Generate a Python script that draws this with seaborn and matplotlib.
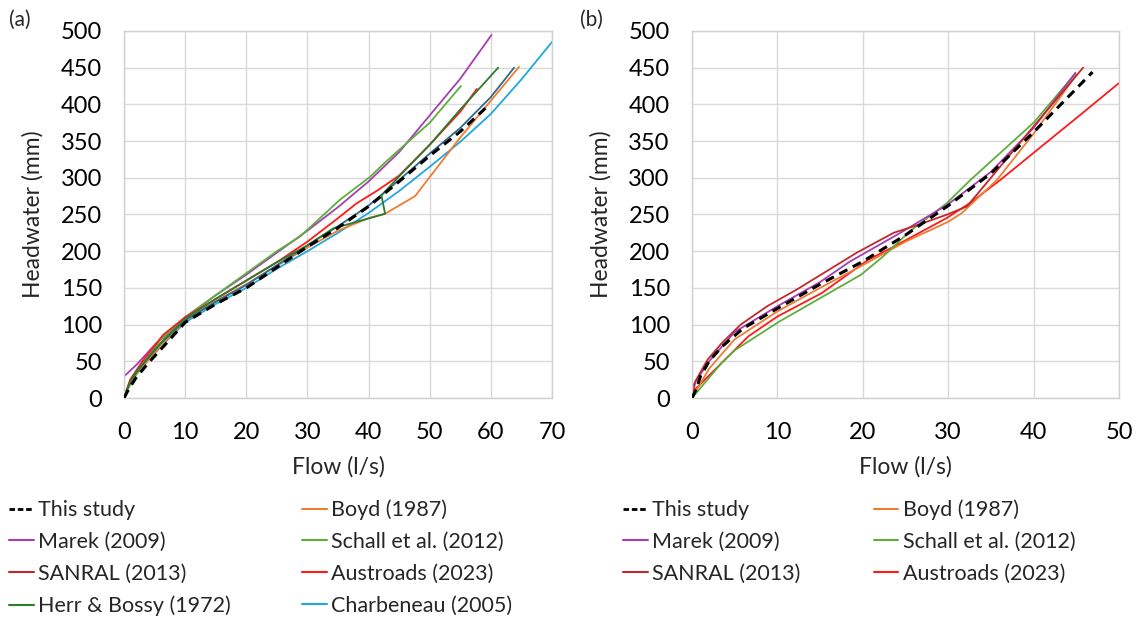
import matplotlib
matplotlib.use("Agg")
import matplotlib.pyplot as plt
from matplotlib.lines import Line2D
import seaborn as sns
import pandas as pd

# ---- panel (a) : flow (l/s) vs headwater (mm) ----
study_a_q = [0, 0.5, 1, 2, 4, 6, 10, 15, 20, 25, 30, 35, 40, 45, 50, 55, 59.4]
study_a_h = [0, 8, 15, 28, 48, 66, 103, 128, 150, 178, 206, 232, 261, 295, 330, 363, 397]

boyd_a_q = [0, 0.5, 1, 2, 4, 6, 10, 15, 20, 25, 30, 35, 40, 42.7, 47.6, 55, 60, 64.6]
boyd_a_h = [0, 10, 18, 32, 52, 70, 105, 132, 155, 180, 205, 228, 245, 251, 275, 355, 405, 451]

marek_a_q = [0, 2, 5.3, 6.4, 10, 15, 20, 25, 30, 35, 40, 45, 50, 55, 60.1]
marek_a_h = [29.5, 45, 75, 82, 110, 140, 168, 198, 228, 260, 295, 335, 385, 435, 494.5]

schall_a_q = [0, 1, 3, 6, 10, 15, 20, 25, 28.8, 35.3, 40.2, 43.1, 50, 55.1]
schall_a_h = [0, 20, 45, 80, 110, 140, 170, 200, 220, 270, 301, 324, 375, 425]

sanral_a_q = [0, 0.5, 1, 2, 4, 6, 10, 15, 20, 25, 30, 35, 40, 45, 50, 55, 60, 63.8]
sanral_a_h = [0, 12, 22, 35, 55, 74, 106, 131, 154, 181, 208, 234, 262, 297, 333, 368, 410, 450]

austroads_a_q = [0, 1, 3, 6.4, 10, 15, 20, 25, 30, 35, 38, 41.5, 45, 50, 55, 57.7]
austroads_a_h = [0, 25, 50, 86, 110, 135, 160, 185, 213, 245, 265, 283, 303, 345, 390, 421]

herr_a_q = [0, 0.5, 1, 2, 4, 6, 10, 15, 20, 25, 30, 34.2, 42.7, 42.1, 45, 50, 55, 61.2]
herr_a_h = [0, 12, 22, 36, 56, 75, 108, 135, 160, 185, 208, 231, 251, 276, 302, 345, 393, 450]

charb_a_q = [0, 0.5, 1, 2, 4, 6, 10, 15, 20, 25, 30, 35, 40, 45, 50, 55, 60, 65, 70]
charb_a_h = [0, 12, 20, 33, 52, 70, 103, 128, 150, 176, 200, 225, 252, 282, 315, 349, 387, 434, 485]

# ---- panel (b) ----
study_b_q = [0, 0.5, 1, 2, 3.5, 6, 10, 15, 20, 25, 30, 35, 40, 46.9]
study_b_h = [0, 12, 30, 50, 70, 95, 122, 155, 186, 222, 262, 306, 362, 444]

boyd_b_q = [0, 0.5, 2, 5, 10, 15, 20, 25, 30, 31.6, 35.7, 40, 45]
boyd_b_h = [0, 10, 40, 80, 118, 150, 181, 213, 240, 252, 297, 360, 440]

marek_b_q = [0, 2, 5, 10, 15, 18.5, 24.4, 30, 35, 40, 44.9]
marek_b_h = [15, 50, 90, 125, 158, 186, 225, 264, 308, 368, 443]

schall_b_q = [0, 3.4, 5, 10.2, 19.8, 22.4, 25.5, 29.8, 32.6, 40, 44.9]
schall_b_h = [0, 47, 65, 104, 168, 193, 227, 265, 297, 375, 442]

sanral_b_q = [0, 0.4, 1.8, 3.5, 5.7, 8.8, 12.3, 15.8, 19.3, 23.6, 26, 29.9, 32.2, 35, 40, 45.8]
sanral_b_h = [0, 23, 52, 75, 100, 125, 148, 173, 198, 225, 234, 250, 261, 300, 370, 450]

austroads_b_q = [0, 0.3, 3.4, 6.6, 10, 15.2, 20.6, 23.6, 29.8, 32.6, 36.1, 45.5, 50]
austroads_b_h = [0, 11, 47, 84, 111, 143, 188, 206, 245, 266, 297, 386, 429]

legend_labels = ["This study", "Boyd (1987)", "Marek (2009)", "Schall et al. (2012)",
                 "SANRAL (2013)", "Austroads (2023)", "Herr & Bossy (1972)", "Charbeneau (2005)"]
legend_colors = ["black", "#ED7D31", "#A43FB0", "#5DAE3C", "#C0282D", "#FF1A1A", "#2E7A2E", "#22A7E0"]

sns.set_style("whitegrid")
plt.rcParams["font.family"] = ["Lato", "DejaVu Sans"]

TICK_FS = 17
LABEL_FS = 16.5
LEG_FS = 15.5

fig = plt.figure(figsize=(11.41, 6.19), dpi=100)
ax_a = fig.add_axes([0.1087, 0.357, 0.3751, 0.593])
ax_b = fig.add_axes([0.6065, 0.357, 0.3742, 0.593])


def draw(ax, q, h, color, dashed=False):
    df = pd.DataFrame({"q": q, "h": h})
    if dashed:
        sns.lineplot(data=df, x="q", y="h", ax=ax, sort=False, estimator=None,
                     color=color, linewidth=2.2, linestyle=(0, (3, 2)), zorder=5)
    else:
        sns.lineplot(data=df, x="q", y="h", ax=ax, sort=False, estimator=None,
                     color=color, linewidth=1.3)


# panel (a)
draw(ax_a, charb_a_q, charb_a_h, legend_colors[7])
draw(ax_a, boyd_a_q, boyd_a_h, legend_colors[1])
draw(ax_a, marek_a_q, marek_a_h, legend_colors[2])
draw(ax_a, schall_a_q, schall_a_h, legend_colors[3])
draw(ax_a, sanral_a_q, sanral_a_h, "#2F6A8A")
draw(ax_a, austroads_a_q, austroads_a_h, legend_colors[5])
draw(ax_a, herr_a_q, herr_a_h, legend_colors[6])
draw(ax_a, study_a_q, study_a_h, "black", dashed=True)

# panel (b)
draw(ax_b, austroads_b_q, austroads_b_h, legend_colors[5])
draw(ax_b, boyd_b_q, boyd_b_h, legend_colors[1])
draw(ax_b, schall_b_q, schall_b_h, legend_colors[3])
draw(ax_b, marek_b_q, marek_b_h, legend_colors[2])
draw(ax_b, sanral_b_q, sanral_b_h, legend_colors[4])
draw(ax_b, study_b_q, study_b_h, "black", dashed=True)

for ax, xmax in [(ax_a, 70), (ax_b, 50)]:
    ax.set_xlim(0, xmax)
    ax.set_ylim(0, 500)
    ax.set_xticks(range(0, xmax + 1, 10))
    ax.set_yticks(range(0, 501, 50))
    ax.grid(True, color="#D9D9D9", linewidth=1.0)
    for s in ax.spines.values():
        s.set_color("#D0D0D0")
        s.set_linewidth(1.0)
    ax.tick_params(axis="both", length=0, labelsize=TICK_FS, colors="black")
    ax.tick_params(axis="y", pad=16)
    ax.tick_params(axis="x", pad=17)
    ax.set_xlabel("Flow (l/s)", fontsize=LABEL_FS, labelpad=10)
    ax.set_ylabel("Headwater (mm)", fontsize=LABEL_FS, labelpad=12)

fig.text(0.008, 0.958, "(a)", fontsize=15)
fig.text(0.508, 0.958, "(b)", fontsize=15)


def handles(n):
    hs = []
    for i in range(n):
        if i == 0:
            hs.append(Line2D([], [], color="black", linewidth=2, linestyle=(0, (2, 1))))
        else:
            hs.append(Line2D([], [], color=legend_colors[i], linewidth=1.5))
    return hs


def row_major(items):
    # legend fills columns first, reorder so entries read across rows
    return items[0::2] + items[1::2]


leg_kw = dict(ncol=2, frameon=False, fontsize=LEG_FS, handlelength=1.15, handletextpad=0.2,
              labelspacing=0.55, borderaxespad=0, borderpad=0, loc="upper left")
fig.legend(row_major(handles(8)), row_major(legend_labels), bbox_to_anchor=(0.008, 0.193),
           columnspacing=3.3, **leg_kw)
fig.legend(row_major(handles(6)), row_major(legend_labels[:6]), bbox_to_anchor=(0.546, 0.193),
           columnspacing=3.4, **leg_kw)

fig.savefig("out.png", dpi=100)
